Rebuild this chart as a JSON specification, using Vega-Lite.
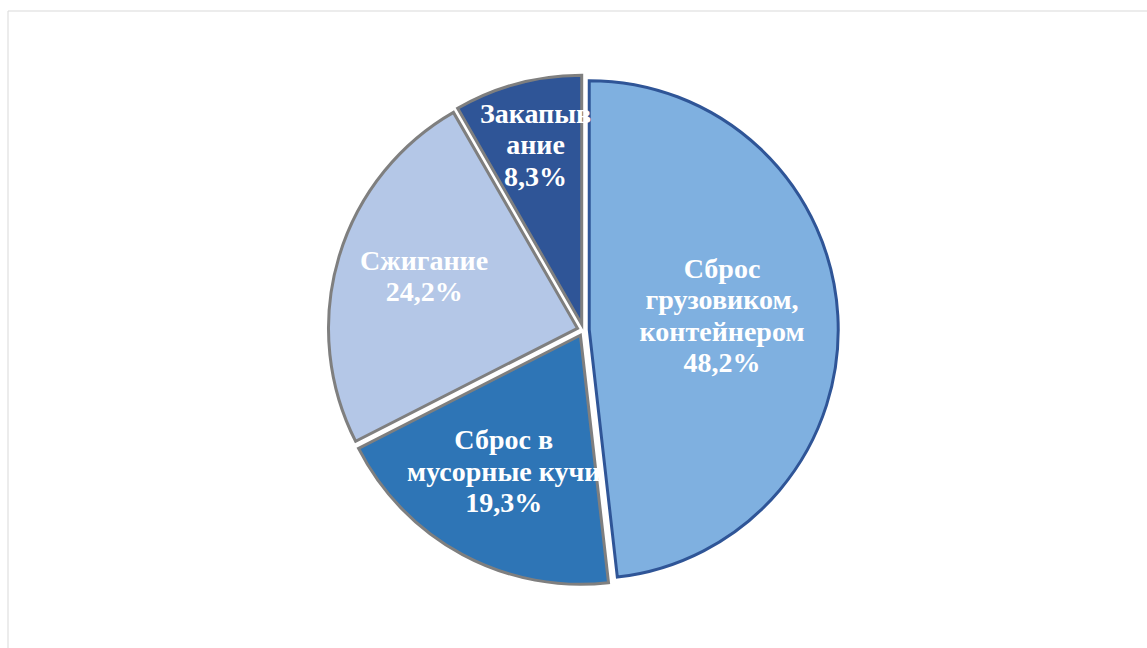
{
  "$schema": "https://vega.github.io/schema/vega-lite/v6.json",
  "autosize": {"type": "fit", "contains": "padding"},
  "width": 1147,
  "height": 648,
  "padding": {"left": 7.5, "top": 10.5, "right": 0, "bottom": 0},
  "background": "white",
  "view": {"stroke": "#d9d9d9", "strokeWidth": 1, "fill": "white"},
  "config": {"view": {"stroke": "#d9d9d9", "strokeWidth": 1}},
  "data": {
    "values": [
      {"name": "Сброс грузовиком, контейнером", "label": "Сброс|грузовиком,|контейнером|48,2%", "value": 48.2, "i": 1},
      {"name": "Сброс в мусорные кучи", "label": "Сброс в|мусорные кучи|19,3%", "value": 19.3, "i": 2},
      {"name": "Сжигание", "label": "Сжигание|24,2%", "value": 24.2, "i": 3},
      {"name": "Закапывание", "label": "Закапыв|ание|8,3%", "value": 8.3, "i": 4}
    ]
  },
  "encoding": {
    "theta": {"field": "value", "type": "quantitative", "stack": true},
    "order": {"field": "i", "type": "quantitative"}
  },
  "layer": [
    {
      "mark": {
        "type": "arc",
        "radius": 249,
        "strokeWidth": 3,
        "x": {"expr": "width/2 + 6 + 6*sin(scale('theta', (datum.value_start + datum.value_end)/2))"},
        "y": {"expr": "height/2 + 0.75 - 6*cos(scale('theta', (datum.value_start + datum.value_end)/2))"}
      },
      "encoding": {
        "fill": {
          "field": "name", "type": "nominal", "legend": null,
          "scale": {
            "domain": ["Сброс грузовиком, контейнером", "Сброс в мусорные кучи", "Сжигание", "Закапывание"],
            "range": ["#7fb0e0", "#2e75b6", "#b4c7e7", "#2f5597"]
          }
        },
        "stroke": {
          "field": "name", "type": "nominal", "legend": null,
          "scale": {
            "domain": ["Сброс грузовиком, контейнером", "Сброс в мусорные кучи", "Сжигание", "Закапывание"],
            "range": ["#2f5597", "#7f7f7f", "#7f7f7f", "#7f7f7f"]
          }
        }
      }
    },
    {
      "mark": {
        "type": "text",
        "font": "Liberation Serif",
        "fontWeight": "bold",
        "fontSize": 28,
        "lineHeight": 31.5,
        "lineBreak": "|",
        "fill": "white",
        "align": "center",
        "baseline": "middle",
        "dy": {"expr": "-5 - 15.75*(length(split(datum.label, '|')) - 1)"},
        "x": {"expr": "width/2 + 6"},
        "y": {"expr": "height/2 + 0.75"}
      },
      "encoding": {
        "text": {"field": "label", "type": "nominal"},
        "radius": {
          "field": "value", "type": "quantitative",
          "scale": {"type": "linear", "domain": [8.3, 19.3, 24.2, 48.2], "range": [185, 168, 166, 139], "zero": false}
        }
      }
    }
  ]
}
